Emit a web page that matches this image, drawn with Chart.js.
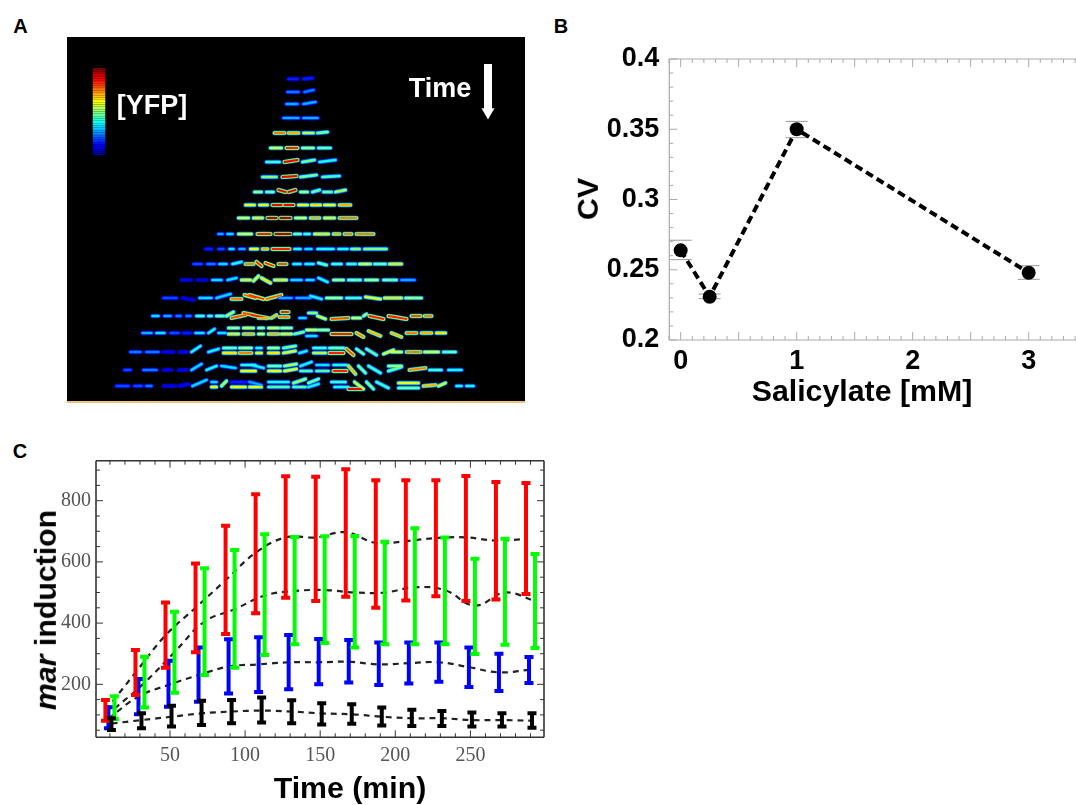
<!DOCTYPE html>
<html>
<head>
<meta charset="utf-8">
<title>mar induction</title>
<script src="https://cdn.jsdelivr.net/npm/chart.js@4"></script>
<style>
  body { margin: 0; background: #fff; width: 1076px; height: 805px; overflow: hidden; position: relative; font-family: "Liberation Sans", Arial, sans-serif; }
  canvas { position: absolute; }
  .txt { position: absolute; font-weight: bold; white-space: nowrap; transform: translate(-50%, -50%); line-height: 1; }
  .rot { transform: translate(-50%, -50%) rotate(-90deg); }
  .letter { font-size: 20px; color: #000; }
  .title { font-size: 30.3px; color: #000; }
  .wht { font-size: 27px; color: #fff; }
  #panelA { left: 67px; top: 37px; background: #000; filter: blur(0.6px); }
  #panelEdge { position: absolute; left: 67px; top: 401px; width: 458px; height: 2px; background: #edc37c; }
</style>
</head>
<body>
<canvas id="panelA" width="458" height="365"></canvas>
<div id="panelEdge"></div>
<canvas id="panelB" width="501" height="370" style="left:575px;top:40px"></canvas>
<canvas id="panelC" width="500" height="355" style="left:55px;top:450px"></canvas>

<div class="txt letter" style="left:20.5px;top:26px">A</div>
<div class="txt letter" style="left:561px;top:26px">B</div>
<div class="txt letter" style="left:20px;top:451px">C</div>
<div class="txt wht" style="left:152px;top:105px">[YFP]</div>
<div class="txt wht" style="left:440px;top:88px">Time</div>
<div class="txt title rot" style="left:588px;top:199px">CV</div>
<div class="txt title" style="left:862px;top:391px">Salicylate [mM]</div>
<div class="txt title rot" style="left:46px;top:610px"><i>mar</i> induction</div>
<div class="txt title" style="left:350px;top:788px">Time (min)</div>

<script>
// Panel A: cells per time frame, [x start, x end, YFP level, tilt, y offset]
const frameY = [79, 92, 104, 118, 133, 148, 162, 177, 192, 205, 218, 234, 249, 264, 280, 298, 316, 333, 352, 370, 386]

const frame01 = [[287,299,.15],[302,314,.15,-1]]
const frame02 = [[286,300,.25],[303,315,.25,-2]]
const frame03 = [[285,299,.3],[302,317,.3,-2]]
const frame04 = [[282,300,.3],[302,319,.3]]
const frame05 = [[273,286,.75],[287,300,.7],[302,315,.55],[316,329,.5,-1]]
const frame06 = [[269,283,.6],[285,299,.85],[301,315,.55],[317,332,.5]]
const frame07 = [[265,281,.45],[283,299,.9,-2],[301,316,.5,-2],[318,337,.4,-2]]
const frame08 = [[261,278,.5],[281,298,.9,-1],[299,318,.5,-2],[321,341,.45,-1]]
const frame09 = [[253,263,.55],[265,275,.5],[277,287,.95,2,-2],[287,297,.95,-2,0],[299,309,.55],[311,321,.5,-2],[322,333,.5],[334,347,.55,-2]]
const frame10 = [[244,256,.6],[258,269,.6],[271,283,.9],[283,295,.9],[297,309,.6],[310,322,.65],[323,336,.6],[338,352,.7]]
const frame11 = [[237,250,.6],[252,264,.65],[266,278,.95],[279,292,.95],[294,307,.6],[309,321,.7],[323,336,.65],[338,358,.75]]
const frame12 = [[217,224,.3],[226,234,.35],[237,253,.6],[256,272,.85],[274,292,.95],[293,302,.5],[303,311,.45],[313,330,.65],[332,341,.7],[343,353,.75],[355,375,.75]]
const frame13 = [[204,213,.15],[217,225,.2],[228,235,.35],[238,246,.3],[249,259,.6],[261,269,.7],[271,291,.85],[293,302,.4],[304,313,.35],[316,335,.4],[337,349,.4],[350,361,.5],[363,388,.5]]
const frame14 = [[192,203,.2],[206,216,.25],[218,228,.35],[231,243,.4,-2],[244,255,.75],[255,263,.85,4,-2],[264,275,.85,3,-1],[277,288,.8],[292,302,.4],[304,315,.4],[317,328,.5,2,-1],[331,343,.45],[346,357,.45],[358,372,.6],[373,387,.5],[388,403,.65]]
const frame15 = [[180,193,.1],[196,208,.08],[211,223,.35],[226,238,.35,-2],[240,252,.65],[252,260,.6,-5,1],[260,272,.65,5,-2],[273,288,.65],[290,303,.35],[305,315,.35],[317,329,.4,4,-2],[332,345,.55],[347,362,.5],[364,379,.55],[382,398,.5],[400,416,.3]]
const frame16 = [[162,178,.2],[181,195,.1,2],[198,213,.35],[215,232,.35,-4],[230,243,.75,0,1],[243,257,.8,3,-3],[248,265,.85,4,-3],[265,283,.8,-4,1],[278,293,.3,0,0],[295,312,.3],[309,323,.4,3,-2],[325,343,.55],[345,362,.45],[364,382,.6,2,-1],[383,403,.65],[404,423,.55]]
const frame17 = [[151,160,.35],[163,172,.3],[175,182,.25],[185,192,.25],[195,205,.45],[207,213,.45],[215,225,.5],[225,235,.55,-4],[230,247,.8,-3,2],[242,255,.8,2,-3],[250,268,.85,3,-1],[257,270,.7,0,2],[270,278,.7,-3,2],[280,290,.85,0,-4],[278,290,.75,0,1],[298,307,.35,0,2],[307,318,.5,0,-3],[316,327,.6,3],[330,350,.8,-1,3],[351,362,.6,0,2],[362,368,.55,-2],[368,385,.85,3],[387,408,.85,3],[410,422,.8],[423,433,.75]]
const frame18 = [[141,153,.3],[155,166,.35],[169,180,.2],[182,192,.15],[194,205,.35],[207,216,.4,-4],[217,227,.35],[227,240,.55,0,-5],[227,240,.65,0,1],[242,255,.6,0,-5],[242,255,.7,0,1],[257,265,.55,0,-5],[257,265,.6,0,1],[267,280,.6,0,-5],[267,280,.7,0,1],[280,293,.55,0,-5],[280,293,.65,0,1],[293,305,.5,-2,1],[305,318,.6,0,-3],[305,318,.35,0,3],[317,330,.55,0,-3],[330,353,.85,0,1],[355,365,.75,4],[367,382,.7,5,-2],[390,403,.7,4],[405,418,.75],[420,433,.7],[435,447,.65]]
const frame19 = [[129,142,.25],[145,160,.25],[162,175,.12],[178,188,.12],[190,202,.4,-6],[207,220,.4,-3],[222,237,.5,0,-4],[222,237,.65,0,1],[238,253,.55,0,-4],[238,253,.75,0,1],[255,263,.4,0,-4],[255,263,.6,0,1],[267,280,.55,0,-4],[267,280,.65,0,1],[282,297,.5,-2,-4],[282,297,.6,-2,1],[298,308,.4,-2,1],[312,327,.45,0,-4],[312,327,.55,0,1],[328,345,.5,0,-4],[328,345,.85,0,1],[345,355,.8,6,-3],[355,365,.5,5,-3],[365,378,.5,6,-3],[382,395,.6,-4,2],[390,403,.6],[405,422,.75],[423,440,.6],[442,457,.5]]
const frame20 = [[123,132,.2],[142,158,.25],[162,173,.1],[177,188,.1],[190,203,.35,-6],[205,218,.4,-4],[220,237,.35,2,-4],[240,257,.4,0,-5],[240,257,.6,0,1],[250,265,.4,3,-5],[267,282,.5,0,-4],[267,282,.6,0,1],[283,298,.55,-2,-4],[283,298,.6,-2,1],[299,313,.4,-4,-4],[299,313,.45,0,1],[315,330,.35,0,-5],[315,330,.45,0,1],[332,348,.4,0,-5],[332,348,.85,0,1],[347,357,.7,8,-4],[357,367,.5,7,-4],[367,382,.45,7,-4],[387,403,.55,0,-4],[387,403,.5,-4,1],[408,427,.75,-2],[428,443,.45],[447,463,.4]]
const frame21 = [[115,130,.2],[133,143,.2],[145,153,.25],[162,177,.1],[178,190,.12,-2],[191,208,.35,-6],[210,218,.35,0,-4],[210,218,.6,0,1],[220,228,.55,-5],[230,247,.15,0,-4],[230,247,.6,0,1],[248,263,.3,3,-4],[248,263,.6,0,1],[267,290,.4,0,-4],[267,290,.45,0,1],[292,307,.55,-4,-3],[292,307,.45,0,1],[307,320,.5,-4,-3],[307,320,.4,-3,1],[330,347,.45,0,-4],[333,350,.4,0,1],[347,363,.9,0,3],[353,365,.6,7,-4],[365,375,.5,7,-4],[375,390,.45,6,-4],[397,420,.6,0,-3],[397,420,.5,0,2],[422,437,.7,-1],[437,447,.6,-3],[455,463,.4],[465,475,.4]]
const frames = [frame01, frame02, frame03, frame04, frame05, frame06, frame07, frame08, frame09, frame10, frame11, frame12, frame13, frame14, frame15, frame16, frame17, frame18, frame19, frame20, frame21]

// Panel B
const salicylate = [0, 0.25, 1, 3]
const cv = [0.2638, 0.2308, 0.35, 0.2479]
const cvHigh = [0.271, 0.2327, 0.3556, 0.2529]
const cvLow = [0.2572, 0.2294, 0.344, 0.2432]
const bXTicks = [0, 1, 2, 3]
const bYTicks = [0.2, 0.25, 0.3, 0.35, 0.4]

// Panel C
const redTime = [7, 27, 47, 67, 87, 107, 127, 147, 167, 187, 207, 227, 247, 267, 287]
const blueTime = [9, 29, 49, 69, 89, 109, 129, 149, 169, 189, 209, 229, 249, 269, 289]
const blackTime = [11, 31, 51, 71, 91, 111, 131, 151, 171, 191, 211, 231, 251, 271, 291]
const greenTime = [13, 33, 53, 73, 93, 113, 133, 153, 173, 193, 213, 233, 253, 273, 293]

const redHigh = [149, 312, 467, 595, 718, 821, 880, 878, 903, 867, 867, 867, 881, 861, 858]
const redLow = [81, 165, 254, 305, 364, 432, 483, 472, 486, 450, 474, 488, 472, 477, 495]
const greenHigh = [161, 290, 437, 579, 639, 690, 681, 684, 685, 666, 710, 680, 610, 676, 626]
const greenLow = [87, 124, 172, 230, 254, 296, 331, 335, 320, 331, 331, 331, 299, 329, 319]
const blueHigh = [125, 217, 277, 320, 347, 354, 361, 348, 345, 337, 337, 337, 320, 300, 289]
const blueLow = [56, 102, 127, 143, 170, 175, 184, 200, 206, 198, 203, 208, 191, 178, 204]
const blackHigh = [89, 105, 130, 146, 149, 157, 148, 138, 135, 124, 117, 113, 108, 105, 105]
const blackLow = [51, 56, 62, 67, 73, 75, 73, 69, 71, 65, 64, 64, 62, 62, 58]

const redMean = [115, 238, 360, 450, 540, 630, 680, 680, 697, 662, 668, 678, 680, 670, 675]
const greenMean = [120, 205, 305, 405, 445, 490, 505, 508, 500, 500, 517, 508, 457, 500, 472]
const blueMean = [88, 160, 198, 230, 258, 265, 272, 272, 274, 265, 269, 272, 256, 239, 247]
const blackMean = [72, 83, 94, 105, 111, 114, 111, 105, 102, 94, 89, 89, 83, 83, 81]

const cXTicks = [50, 100, 150, 200, 250]
const cYTicks = [200, 400, 600, 800]
const cXMinor = [10, 20, 30, 40, 60, 70, 80, 90, 110, 120, 130, 140, 160, 170, 180, 190, 210, 220, 230, 240, 260, 270, 280, 290]
const cYMinor = [50, 100, 150, 250, 300, 350, 450, 500, 550, 650, 700, 750, 850, 900]
const bXMinor = [-0.1, 0.1, 0.2, 0.3, 0.4, 0.6, 0.7, 0.8, 0.9, 1.1, 1.2, 1.3, 1.4, 1.6, 1.7, 1.8, 1.9, 2.1, 2.2, 2.3, 2.4, 2.6, 2.7, 2.8, 2.9, 3.1, 3.2, 3.3, 3.4]
const bXMajor = [0, 0.5, 1, 1.5, 2, 2.5, 3]
const bYMinor = [0.21, 0.22, 0.23, 0.24, 0.26, 0.27, 0.28, 0.29, 0.31, 0.32, 0.33, 0.34, 0.36, 0.37, 0.38, 0.39]

Chart.defaults.animation = false
Chart.defaults.responsive = false

function jet( level, scale ) {
  const clamp = v => Math.round( 255 * Math.min( 1, Math.max( 0, v ) ) )
  const l = level * scale
  return `rgb(${clamp( 1.5 - Math.abs( 4 * l - 3 ) )},${clamp( 1.5 - Math.abs( 4 * l - 2 ) )},${clamp( 1.5 - Math.abs( 4 * l - 1 ) )})`
}

// one long path with gaps between the cells, coloured segment by segment
// the ends are pulled in a little since the round caps add that length back
const cellPoints = []
frames.forEach( ( cells, i ) => {
  cells.forEach( ( [ x0, x1, level, tilt = 0, dy = 0 ] ) => {
    cellPoints.push( { x: x0 + 1.5, y: frameY[ i ] + dy, level } )
    cellPoints.push( { x: x1 - 1.5, y: frameY[ i ] + dy + tilt, level } )
    cellPoints.push( { x: x1, y: null, level } )
  } )
} )

const cellLayer = ( width, scale ) => ( {
  data: cellPoints,
  showLine: true,
  pointRadius: 0,
  borderWidth: width,
  borderCapStyle: 'round',
  segment: { borderColor: ctx => jet( cellPoints[ ctx.p0DataIndex ].level, scale ) }
} )

const barPoints = []
for ( let l = 100; l >= 0; l -= 2 ) barPoints.push( { x: 99, y: 68 + ( 100 - l ) * 0.87, level: l / 100 } )

new Chart( document.getElementById( 'panelA' ), {
  type: 'scatter',
  data: {
    datasets: [
      cellLayer( 1.8, 1 ),
      cellLayer( 3.2, 0.75 ),
      cellLayer( 4.5, 0.42 ),
      {
        data: barPoints,
        showLine: true,
        pointRadius: 0,
        borderWidth: 12.5,
        segment: { borderColor: ctx => jet( barPoints[ ctx.p0DataIndex ].level, 1 ) }
      },
      { data: [ { x: 488, y: 64 }, { x: 488, y: 110 } ], showLine: true, pointRadius: 0, borderWidth: 8, borderColor: '#fff' },
      { data: [ { x: 488, y: 112 } ], pointStyle: 'triangle', rotation: 180, pointRadius: 7.5, backgroundColor: '#fff', borderWidth: 0 }
    ]
  },
  options: {
    layout: { padding: 0, autoPadding: false },
    plugins: { legend: { display: false }, tooltip: { enabled: false } },
    scales: {
      x: { type: 'linear', display: false, min: 67, max: 525 },
      y: { type: 'linear', display: false, min: 37, max: 402, reverse: true }
    }
  }
} )

// frame and inward ticks, placed through the chart's own scales
function frameTicks( id, cfg ) {
  return {
    id: id,
    afterDatasetsDraw( chart ) {
      const { ctx, chartArea: a, scales: { x, y } } = chart
      ctx.save()
      ctx.strokeStyle = cfg.color
      ctx.lineWidth = cfg.tickWidth
      const line = ( x0, y0, x1, y1 ) => { ctx.beginPath(); ctx.moveTo( x0, y0 ); ctx.lineTo( x1, y1 ); ctx.stroke() }
      const xTick = ( v, len ) => {
        const p = x.getPixelForValue( v )
        line( p, a.bottom, p, a.bottom - len )
        line( p, a.top, p, a.top + len )
      }
      const yTick = ( v, len ) => {
        const p = y.getPixelForValue( v )
        line( a.left, p, a.left + len, p )
        if ( cfg.rightSide ) line( a.right, p, a.right - len, p )
      }
      cfg.xMajor.forEach( v => xTick( v, cfg.major ) )
      cfg.xMinor.forEach( v => xTick( v, cfg.minor ) )
      cfg.yMajor.forEach( v => yTick( v, cfg.major ) )
      cfg.yMinor.forEach( v => yTick( v, cfg.minor ) )
      ctx.lineWidth = cfg.frameWidth
      line( a.left, a.top, a.right, a.top )
      line( a.left, a.bottom, a.right, a.bottom )
      line( a.left, a.top, a.left, a.bottom )
      if ( cfg.rightSide ) line( a.right, a.top, a.right, a.bottom )
      ctx.restore()
    }
  }
}

const zip = ( xs, ys ) => xs.map( ( x, i ) => ( { x, y: ys[ i ] } ) )

// the label overhang would otherwise push the plot area off its place
const fixedBox = prop => size => s => {
  s[ prop ] = size
  s.paddingTop = s.paddingBottom = s.paddingLeft = s.paddingRight = 0
}

new Chart( document.getElementById( 'panelB' ), {
  type: 'scatter',
  data: {
    datasets: [
      {
        data: zip( salicylate, cv ),
        showLine: true,
        borderColor: '#000',
        borderWidth: 4,
        borderDash: [ 8, 4.5 ],
        pointRadius: 7,
        pointBackgroundColor: '#000',
        pointBorderWidth: 0
      },
      { data: zip( salicylate, cvHigh ), pointStyle: 'line', pointRadius: 11, pointBorderColor: '#999', pointBorderWidth: 1 },
      { data: zip( salicylate, cvLow ), pointStyle: 'line', pointRadius: 11, pointBorderColor: '#999', pointBorderWidth: 1 }
    ]
  },
  options: {
    layout: { padding: { top: 19, right: 0, left: 0, bottom: 0 }, autoPadding: false },
    plugins: { legend: { display: false }, tooltip: { enabled: false } },
    scales: {
      x: {
        type: 'linear', min: -0.098, max: 3.408,
        grid: { display: false, drawTicks: false }, border: { display: false },
        afterBuildTicks: s => { s.ticks = bXTicks.map( value => ( { value } ) ) },
        afterFit: fixedBox( 'height' )( 70 ),
        ticks: { color: '#000', font: { family: 'Liberation Sans', weight: 'bold', size: 27 }, padding: 5, maxRotation: 0, callback: v => String( v ) }
      },
      y: {
        type: 'linear', min: 0.2, max: 0.4,
        grid: { display: false, drawTicks: false }, border: { display: false },
        afterBuildTicks: s => { s.ticks = bYTicks.map( value => ( { value } ) ) },
        afterFit: fixedBox( 'width' )( 94.3 ),
        ticks: { color: '#000', font: { family: 'Liberation Sans', weight: 'bold', size: 27 }, padding: 10, callback: v => String( +v.toFixed( 2 ) ) }
      }
    }
  },
  plugins: [ frameTicks( 'frameB', { color: '#aaa', tickWidth: 1, frameWidth: 1.2, major: 8, minor: 4, rightSide: false, xMajor: bXMajor, xMinor: bXMinor, yMajor: bYTicks, yMinor: bYMinor } ) ]
} )

function errorPoints( times, high, low ) {
  const pts = []
  times.forEach( ( t, i ) => {
    pts.push( { x: t, y: low[ i ] }, { x: t, y: high[ i ] }, { x: t, y: null } )
  } )
  return pts
}

const errorBars = ( times, high, low, color ) => ( {
  data: errorPoints( times, high, low ),
  showLine: true,
  borderColor: color,
  borderWidth: 4,
  pointStyle: 'line',
  pointRadius: 4.5,
  pointBorderColor: color,
  pointBorderWidth: 4
} )

const meanLine = ( times, mean ) => ( {
  data: zip( times, mean ),
  showLine: true,
  tension: 0.4,
  borderColor: '#222',
  borderWidth: 2.2,
  borderDash: [ 6, 5 ],
  pointRadius: 0
} )

new Chart( document.getElementById( 'panelC' ), {
  type: 'scatter',
  data: {
    datasets: [
      errorBars( blackTime, blackHigh, blackLow, '#000' ),
      errorBars( greenTime, greenHigh, greenLow, '#00ff00' ),
      errorBars( redTime, redHigh, redLow, '#ff0000' ),
      errorBars( blueTime, blueHigh, blueLow, '#0000ff' ),
      meanLine( redTime, redMean ),
      meanLine( greenTime, greenMean ),
      meanLine( blueTime, blueMean ),
      meanLine( blackTime, blackMean )
    ]
  },
  options: {
    layout: { padding: { top: 10.7, right: 11, left: 0, bottom: 0 }, autoPadding: false },
    plugins: { legend: { display: false }, tooltip: { enabled: false } },
    scales: {
      x: {
        type: 'linear', min: 0.73, max: 299,
        grid: { display: false, drawTicks: false }, border: { display: false },
        afterBuildTicks: s => { s.ticks = cXTicks.map( value => ( { value } ) ) },
        afterFit: fixedBox( 'height' )( 67.7 ),
        ticks: { color: '#555', font: { family: 'Liberation Serif', size: 20 }, padding: 6, maxRotation: 0 }
      },
      y: {
        type: 'linear', min: 26.8, max: 930.7,
        grid: { display: false, drawTicks: false }, border: { display: false },
        afterBuildTicks: s => { s.ticks = cYTicks.map( value => ( { value } ) ) },
        afterFit: fixedBox( 'width' )( 41 ),
        ticks: { color: '#555', font: { family: 'Liberation Serif', size: 20 }, padding: 5 }
      }
    }
  },
  plugins: [ frameTicks( 'frameC', { color: '#333', tickWidth: 1, frameWidth: 1.6, major: 7, minor: 4, rightSide: true, xMajor: cXTicks, xMinor: cXMinor, yMajor: cYTicks, yMinor: cYMinor } ) ]
} )
</script>
</body>
</html>
